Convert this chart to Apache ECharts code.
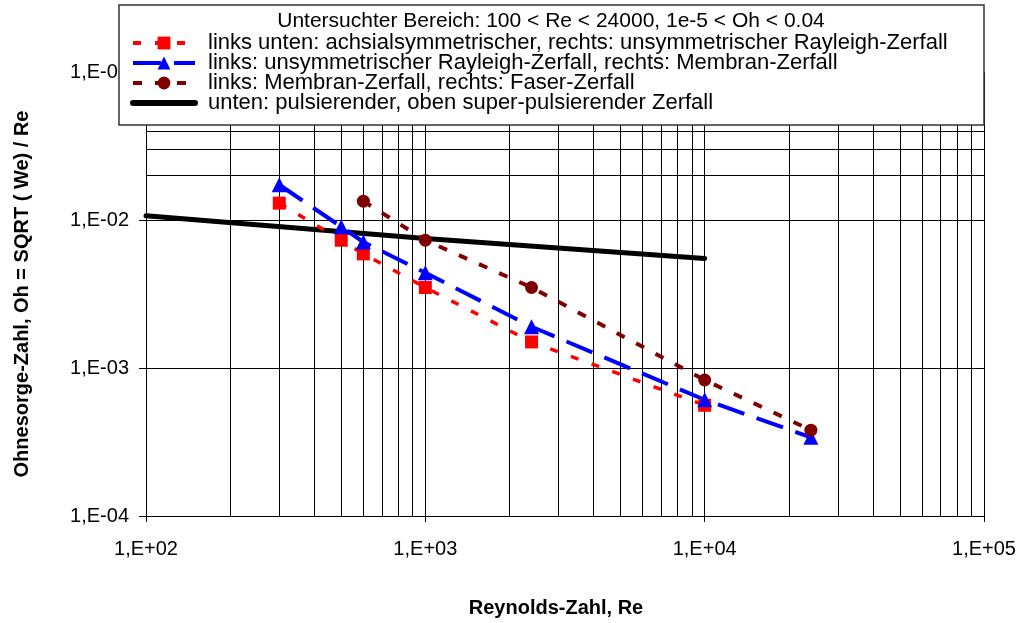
<!DOCTYPE html>
<html>
<head>
<meta charset="utf-8">
<script src="https://cdn.jsdelivr.net/npm/echarts@6/dist/echarts.min.js"></script>
<style>
  html, body { margin: 0; padding: 0; background: #fff; }
  #chart { width: 1021px; height: 623px; }
</style>
</head>
<body>
<div id="chart"></div>
<script>
// Reynolds-Zahl (x) und Ohnesorge-Zahl (y) je Grenzlinie
var reRed = [300, 500, 600, 1000, 2400, 10000];
var ohRed = [0.013, 0.0073, 0.0059, 0.0035, 0.0015, 0.00056];
var reBlue = [300, 500, 600, 1000, 2400, 10000, 24000];
var ohBlue = [0.0173, 0.0090, 0.0071, 0.0044, 0.0019, 0.00061, 0.00034];
var reDark = [600, 1000, 2400, 10000, 24000];
var ohDark = [0.0134, 0.0073, 0.0035, 0.00083, 0.00038];
var reBlack = [100, 1000, 10000];
var ohBlack = [0.0107, 0.0075, 0.0055];

var seriesNames = [
  'links unten: achsialsymmetrischer, rechts: unsymmetrischer Rayleigh-Zerfall',
  'links: unsymmetrischer Rayleigh-Zerfall, rechts: Membran-Zerfall',
  'links: Membran-Zerfall, rechts: Faser-Zerfall',
  'unten: pulsierender, oben super-pulsierender Zerfall'
];
var legendTitle = 'Untersuchter Bereich: 100 < Re < 24000, 1e-5 < Oh < 0.04';

var xDecades = [100, 1000, 10000];
var yDecades = [0.0001, 0.001, 0.01];

function pairs(xs, ys) {
  return xs.map(function (x, i) { return [x, ys[i]]; });
}

function expLabel(v) {
  var e = Math.round(Math.log10(v));
  var s = e < 0 ? '-' : '+';
  var a = Math.abs(e);
  return '1,E' + s + (a < 10 ? '0' + a : a);
}

// Nebengitter 2..9 je Dekade
var minorLines = [];
xDecades.forEach(function (d) {
  for (var k = 2; k <= 9; k++) minorLines.push({ xAxis: d * k });
});
yDecades.forEach(function (d) {
  for (var k = 2; k <= 9; k++) minorLines.push({ yAxis: +(d * k).toPrecision(3) });
});

var font = 'Liberation Sans, Arial, sans-serif';
var chart = echarts.init(document.getElementById('chart'));

chart.setOption({
  animation: false,
  grid: { left: 146, right: 37, top: 72, bottom: 107 },
  xAxis: {
    type: 'log',
    logBase: 10,
    min: 100,
    max: 100000,
    interval: 1,
    name: 'Reynolds-Zahl, Re',
    nameLocation: 'middle',
    nameGap: 82,
    nameTextStyle: { fontFamily: font, fontSize: 20, fontWeight: 'bold', color: '#000', padding: [0, 18, 0, 0] },
    axisLine: { lineStyle: { color: '#000', width: 1 } },
    axisTick: { show: true, length: 6, lineStyle: { color: '#000' } },
    axisLabel: { formatter: expLabel, fontFamily: font, fontSize: 20, color: '#000', margin: 23 },
    splitLine: { show: true, lineStyle: { color: '#000', width: 1 } },
    minorTick: { show: false },
    minorSplitLine: { show: false }
  },
  yAxis: {
    type: 'log',
    logBase: 10,
    min: 0.0001,
    max: 0.1,
    interval: 1,
    name: 'Ohnesorge-Zahl, Oh = SQRT ( We) / Re',
    nameLocation: 'middle',
    nameGap: 114,
    nameTextStyle: { fontFamily: font, fontSize: 20, fontWeight: 'bold', color: '#000' },
    axisLine: { show: true, lineStyle: { color: '#000', width: 1 } },
    axisTick: { show: true, length: 7, lineStyle: { color: '#000' } },
    axisLabel: { formatter: expLabel, fontFamily: font, fontSize: 20, color: '#000', margin: 17 },
    splitLine: { show: true, lineStyle: { color: '#000', width: 1 } },
    minorTick: { show: false },
    minorSplitLine: { show: false }
  },
  legend: {
    data: [
      { name: seriesNames[0], lineStyle: { width: 4 } },
      { name: seriesNames[1], lineStyle: { width: 4 } },
      { name: seriesNames[2], lineStyle: { width: 4 } },
      { name: seriesNames[3], itemStyle: { opacity: 0 }, lineStyle: { width: 6, cap: 'round' } }
    ],
    orient: 'vertical',
    left: 125,
    top: 27,
    itemWidth: 62,
    itemHeight: 16,
    itemGap: -2,
    selectedMode: false,
    z: 4,
    textStyle: { fontFamily: font, fontSize: 22, color: '#000', lineHeight: 20, padding: [0, 0, 0, 8] }
  },
  graphic: [
    {
      type: 'rect',
      z: 3,
      shape: { x: 119, y: 5, width: 865, height: 120 },
      style: { fill: '#fff', stroke: '#333', lineWidth: 1.5 }
    },
    {
      type: 'text',
      z: 5,
      x: 551,
      y: 21,
      style: { text: legendTitle, fontFamily: font, fontSize: 21, fill: '#000', align: 'center', verticalAlign: 'middle' }
    }
  ],
  series: [
    {
      name: 'grid',
      type: 'line',
      data: [[100, 0.0001]],
      showSymbol: false,
      lineStyle: { width: 0 },
      silent: true,
      z: 1,
      markLine: {
        silent: true,
        z: 1,
        symbol: ['none', 'none'],
        label: { show: false },
        lineStyle: { color: '#000', width: 1, type: 'solid' },
        emphasis: { disabled: true },
        data: minorLines
      }
    },
    {
      name: seriesNames[3],
      type: 'line',
      data: pairs(reBlack, ohBlack),
      showSymbol: false,
      symbol: 'none',
      z: 2,
      lineStyle: { color: '#000', width: 5, cap: 'round' },
      itemStyle: { color: '#000' }
    },
    {
      name: seriesNames[0],
      type: 'line',
      data: pairs(reRed, ohRed),
      symbol: 'rect',
      symbolSize: 13,
      z: 3,
      lineStyle: { color: '#ff0000', width: 3.5, type: [8, 14] },
      itemStyle: { color: '#ff0000' }
    },
    {
      name: seriesNames[1],
      type: 'line',
      data: pairs(reBlue, ohBlue),
      symbol: 'triangle',
      symbolSize: 15,
      z: 3,
      lineStyle: { color: '#0000ff', width: 4, type: [28, 13] },
      itemStyle: { color: '#0000ff' }
    },
    {
      name: seriesNames[2],
      type: 'line',
      data: pairs(reDark, ohDark),
      symbol: 'circle',
      symbolSize: 13,
      z: 3,
      lineStyle: { color: '#800000', width: 4, type: [9, 13] },
      itemStyle: { color: '#800000' }
    }
  ]
});
</script>
</body>
</html>
